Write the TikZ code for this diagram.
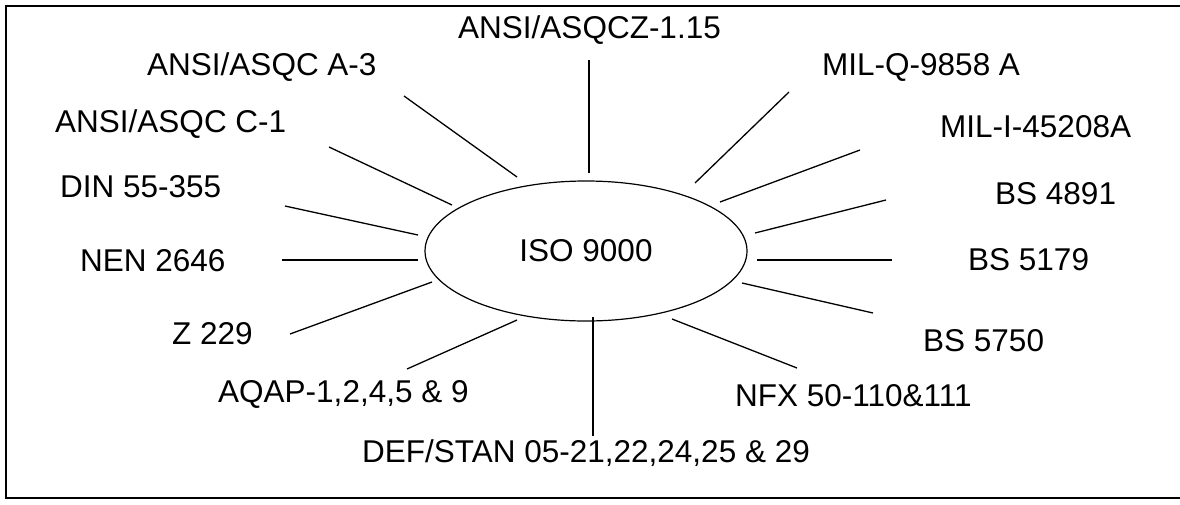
\documentclass[tikz,border=0pt]{standalone}
\usepackage{fontspec}
\setmainfont{Liberation Sans}
\usetikzlibrary{shapes.geometric}
\begin{document}
\begin{tikzpicture}[x=1pt,y=-1pt,
  lbl/.style={inner sep=0pt,anchor=base west,font=\fontsize{31.5}{36}\selectfont},
  ray/.style={line width=1.3pt},
  hub/.style={ellipse,draw,line width=1.2pt,minimum width=322pt,minimum height=140pt,inner sep=0pt,font=\fontsize{31.5}{36}\selectfont}]
\useasboundingbox (0,0) rectangle (1180,504);
% frame (right side lies outside the picture)
\draw[line width=1.5pt] (1180,6) -- (6,6) -- (6,498) -- (1180,498);
% hub
\node[hub] (iso) at (586,251) {ISO 9000};
% labels
\node[lbl] (z115) at (458,38) {ANSI/ASQCZ-1.15};
\node[lbl] (a3) at (147,75) {ANSI/ASQC A-3};
\node[lbl] (milq) at (822,75) {MIL-Q-9858 A};
\node[lbl] (c1) at (55,132) {ANSI/ASQC C-1};
\node[lbl] (mili) at (940,137) {MIL-I-45208A};
\node[lbl] (din) at (60,197) {DIN 55-355};
\node[lbl] (bs4891) at (995,204) {BS 4891};
\node[lbl] (nen) at (80,271) {NEN 2646};
\node[lbl] (bs5179) at (968,270) {BS 5179};
\node[lbl] (z229) at (172,344) {Z 229};
\node[lbl] (bs5750) at (923,351) {BS 5750};
\node[lbl] (aqap) at (218,402) {AQAP-1,2,4,5 \& 9};
\node[lbl] (nfx) at (735,406) {NFX 50-110\&111};
\node[lbl] (def) at (362,462) {DEF/STAN 05-21,22,24,25 \& 29};
% ray end points
\coordinate (tIn) at (589,173);   \coordinate (tOut) at (589,60);
\coordinate (a3In) at (517,177);  \coordinate (a3Out) at (404,96);
\coordinate (c1In) at (452,205);  \coordinate (c1Out) at (329,147);
\coordinate (dinIn) at (418,235); \coordinate (dinOut) at (285,206);
\coordinate (nenIn) at (418,260); \coordinate (nenOut) at (282,260);
\coordinate (zIn) at (432,282);   \coordinate (zOut) at (290,334);
\coordinate (aqIn) at (517,320);  \coordinate (aqOut) at (407,369);
\coordinate (dIn) at (593,317);   \coordinate (dOut) at (593,436);
\coordinate (nfIn) at (672,319);  \coordinate (nfOut) at (797,368);
\coordinate (b50In) at (742,283); \coordinate (b50Out) at (873,313);
\coordinate (b79In) at (757,260); \coordinate (b79Out) at (892,260);
\coordinate (b91In) at (755,233); \coordinate (b91Out) at (886,200);
\coordinate (miIn) at (720,202);  \coordinate (miOut) at (860,150);
\coordinate (mqIn) at (695,183);  \coordinate (mqOut) at (789,92);
% rays
\draw[ray] (tIn) -- (tOut);
\draw[ray] (a3In) -- (a3Out);
\draw[ray] (c1In) -- (c1Out);
\draw[ray] (dinIn) -- (dinOut);
\draw[ray] (nenIn) -- (nenOut);
\draw[ray] (zIn) -- (zOut);
\draw[ray] (aqIn) -- (aqOut);
\draw[ray] (dIn) -- (dOut);
\draw[ray] (nfIn) -- (nfOut);
\draw[ray] (b50In) -- (b50Out);
\draw[ray] (b79In) -- (b79Out);
\draw[ray] (b91In) -- (b91Out);
\draw[ray] (miIn) -- (miOut);
\draw[ray] (mqIn) -- (mqOut);
\end{tikzpicture}
\end{document}
